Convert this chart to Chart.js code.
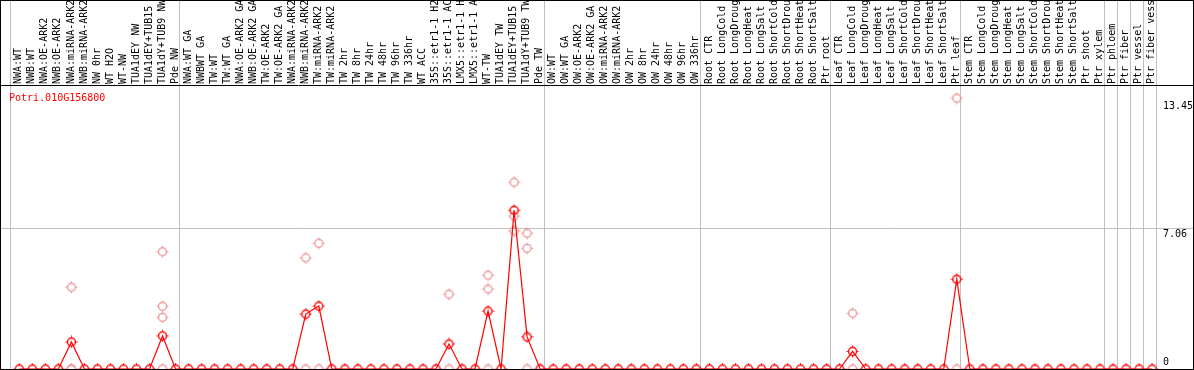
<!DOCTYPE html>
<html>
<head>
<meta charset="utf-8">
<script src="https://cdn.jsdelivr.net/npm/chart.js@4"></script>
<style>
  html, body { margin: 0; padding: 0; background: #fff; }
</style>
</head>
<body>
<canvas id="chart" width="1194" height="370"></canvas>
<script>
// gene shown in the corner
const geneName = 'Potri.010G156800';

// sample names, left to right
const samples = [
  'NWA:WT', 'NWB:WT', 'NWA:OE-ARK2', 'NWB:OE-ARK2', 'NWA:miRNA-ARK2', 'NWB:miRNA-ARK2',
  'NW 0hr', 'WT H2O', 'WT-NW', 'TUA1dEY NW', 'TUA1dEY+TUB15 NW', 'TUA1dY+TUB9 NW', 'Pde NW',
  'NWA:WT GA', 'NWBWT GA', 'TW:WT', 'TW:WT GA', 'NWA:OE-ARK2 GA', 'NWB:OE-ARK2 GA',
  'TW:OE-ARK2', 'TW:OE-ARK2 GA', 'NWA:miRNA-ARK2', 'NWB:miRNA-ARK2', 'TW:miRNA-ARK2', 'TW:miRNA-ARK2',
  'TW 2hr', 'TW 8hr', 'TW 24hr', 'TW 48hr', 'TW 96hr', 'TW 336hr', 'WT ACC',
  '35S::etr1-1 H2O', '35S::etr1-1 ACC', 'LMX5::etr1-1 H2O', 'LMX5::etr1-1 ACC',
  'WT-TW', 'TUA1dEY TW', 'TUA1dEY+TUB15 TW', 'TUA1dY+TUB9 TW', 'Pde TW',
  'OW:WT', 'OW:WT GA', 'OW:OE-ARK2', 'OW:OE-ARK2 GA', 'OW:miRNA-ARK2', 'OW:miRNA-ARK2',
  'OW 2hr', 'OW 8hr', 'OW 24hr', 'OW 48hr', 'OW 96hr', 'OW 336hr',
  'Root CTR', 'Root LongCold', 'Root LongDrought', 'Root LongHeat', 'Root LongSalt',
  'Root ShortCold', 'Root ShortDrought', 'Root ShortHeat', 'Root ShortSalt', 'Ptr root',
  'Leaf CTR', 'Leaf LongCold', 'Leaf LongDrought', 'Leaf LongHeat', 'Leaf LongSalt',
  'Leaf ShortCold', 'Leaf ShortDrought', 'Leaf ShortHeat', 'Leaf ShortSalt', 'Ptr leaf',
  'Stem CTR', 'Stem LongCold', 'Stem LongDrought', 'Stem LongHeat', 'Stem LongSalt',
  'Stem ShortCold', 'Stem ShortDrought', 'Stem ShortHeat', 'Stem ShortSalt', 'Ptr shoot', 'Ptr xylem',
  'Ptr phloem', 'Ptr fiber', 'Ptr vessel', 'Ptr fiber vessel'
];

// mean expression per sample
const meanValues = [
  0, 0, 0, 0, 1.35, 0, 0, 0, 0, 0, 0, 1.65, 0,
  0, 0, 0, 0, 0, 0, 0, 0, 0, 2.74, 3.14, 0, 0, 0, 0, 0, 0, 0, 0, 0, 1.25, 0, 0, 2.89, 0, 7.92, 1.60, 0,
  0, 0, 0, 0, 0, 0, 0, 0, 0, 0, 0, 0,
  0, 0, 0, 0, 0, 0, 0, 0, 0, 0,
  0, 0.88, 0, 0, 0, 0, 0, 0, 0, 4.48,
  0, 0, 0, 0, 0, 0, 0, 0, 0, 0, 0,
  0, 0, 0, 0
];

// single replicates (sample index, value)
const repIndex  = [4, 4, 4, 11, 11, 11, 11, 22, 22, 23, 23, 33, 33, 36, 36, 36, 38, 38, 38, 39, 39, 39, 64, 64, 72, 72];
const repValues = [4.08, 0, 0, 5.85, 3.13, 2.58, 0, 5.55, 0, 6.27, 0, 3.73, 0, 4.68, 3.99, 0, 9.32, 7.63, 6.89, 6.77, 6.02, 0, 2.78, 0, 13.51, 0];

// first sample of each tissue block (last entry = end)
const groupStarts = [0, 13, 41, 53, 63, 73, 84, 85, 86, 87, 88];

// right axis labels
const yTickValues = [0, 7.06, 13.45];
const yMax = 14.12;

const MONO = '"DejaVu Sans Mono", "Liberation Mono", monospace';

function ringImage(color) {
  const c = document.createElement('canvas');
  c.width = 13; c.height = 13;
  const g = c.getContext('2d');
  g.strokeStyle = color;
  g.lineWidth = 1.4;
  g.beginPath();
  g.arc(6.5, 6.5, 4, 0, Math.PI * 2);
  g.stroke();
  g.lineWidth = 1;
  g.beginPath();
  g.moveTo(6.5, 0.5); g.lineTo(6.5, 2.5);
  g.moveTo(6.5, 10.5); g.lineTo(6.5, 12.5);
  g.moveTo(0.5, 6.5); g.lineTo(2.5, 6.5);
  g.moveTo(10.5, 6.5); g.lineTo(12.5, 6.5);
  g.stroke();
  return c;
}

const frame = {
  id: 'frame',
  beforeDraw(chart) {
    const ctx = chart.ctx;
    const x = chart.scales.x, y = chart.scales.y;
    ctx.save();
    ctx.fillStyle = '#fff';
    ctx.fillRect(0, 0, chart.width, chart.height);
    ctx.strokeStyle = '#c0c0c0';
    ctx.lineWidth = 1;
    ctx.beginPath();
    groupStarts.forEach(k => {
      const px = Math.round(x.getPixelForValue(k - 0.715)) + 0.5;
      ctx.moveTo(px, 0);
      ctx.lineTo(px, chart.height);
    });
    const gy = Math.round(y.getPixelForValue(yTickValues[1])) + 0.5;
    ctx.moveTo(0, gy);
    ctx.lineTo(chart.width, gy);
    ctx.stroke();
    ctx.restore();
  },
  afterDraw(chart) {
    const ctx = chart.ctx;
    const y = chart.scales.y;
    const area = chart.chartArea;
    ctx.save();
    ctx.strokeStyle = '#000';
    ctx.lineWidth = 1;
    ctx.strokeRect(0.5, 0.5, chart.width - 1, chart.height - 1);
    ctx.beginPath();
    ctx.moveTo(0, Math.round(area.top) - 0.5);
    ctx.lineTo(chart.width, Math.round(area.top) - 0.5);
    ctx.stroke();

    ctx.font = '10px ' + MONO;
    ctx.fillStyle = '#000';
    ctx.textAlign = 'left';
    ctx.textBaseline = 'alphabetic';
    yTickValues.forEach(v => {
      const py = y.getPixelForValue(v);
      const base = v === 0 ? py - 4 : py + 9.5;
      ctx.fillText(String(v), area.right + 7, base);
    });

    ctx.fillStyle = '#ff0000';
    ctx.fillText(geneName, 9, area.top + 14.5);
    ctx.restore();
  }
};

new Chart(document.getElementById('chart'), {
  type: 'line',
  data: {
    datasets: [
      {
        label: 'mean',
        data: meanValues.map((v, i) => ({ x: i, y: v })),
        borderColor: '#ff0000',
        borderWidth: 1.2,
        pointStyle: ringImage('#ff0000'),
        tension: 0,
        clip: false,
        order: 0
      },
      {
        label: 'replicates',
        data: repIndex.map((i, k) => ({ x: i, y: repValues[k] })),
        showLine: false,
        pointStyle: ringImage('#eb9a9a'),
        clip: false,
        order: 1
      }
    ]
  },
  plugins: [frame],
  options: {
    responsive: false,
    animation: false,
    events: [],
    layout: { autoPadding: false, padding: { left: 1, right: 1, top: 1, bottom: 1 } },
    plugins: { legend: { display: false }, tooltip: { enabled: false } },
    scales: {
      x: {
        type: 'linear',
        position: 'top',
        min: -1.406,
        max: 87.3,
        bounds: 'data',
        grid: { display: false, drawTicks: false },
        border: { display: false },
        afterBuildTicks(axis) {
          axis.ticks = samples.map((s, i) => ({ value: i + 0.885 }));
        },
        afterFit(axis) {
          axis.height = 85;
          axis.paddingLeft = 0;
          axis.paddingRight = 0;
        },
        ticks: {
          autoSkip: false,
          minRotation: 90,
          maxRotation: 90,
          padding: 2,
          color: '#000',
          font: { family: MONO, size: 10 },
          callback: (v, i) => samples[i]
        }
      },
      y: {
        type: 'linear',
        position: 'right',
        min: 0,
        max: yMax,
        grid: { display: false },
        border: { display: false },
        ticks: { display: false },
        afterFit(axis) { axis.width = 37; }
      }
    }
  }
});
</script>
</body>
</html>
